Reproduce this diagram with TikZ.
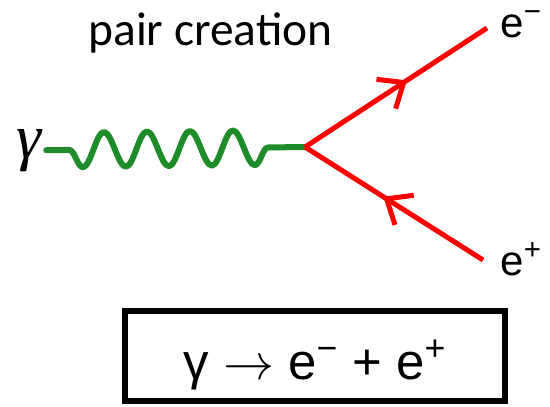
\RequirePackage{fix-cm}
\documentclass[tikz,border=0pt]{standalone}
\usepackage{fontspec}
\setmainfont{Liberation Sans}
\newfontfamily\calibri{Carlito}
\newfontfamily\timesfont{Liberation Serif}
\usetikzlibrary{arrows.meta, positioning, decorations.pathmorphing, decorations.markings}
\definecolor{pRed}{HTML}{FF0000}
\definecolor{pGreen}{HTML}{1E8C28}

\begin{document}
\begin{tikzpicture}[x=0.02cm, y=-0.02cm,
    fermion/.style={pRed, line width=0.1cm, postaction={decorate},
      decoration={markings, mark=at position 0.56 with {\arrow{Straight Barb[length=0.42cm, width=0.7cm]}}}},
    photon/.style={pGreen, line width=0.12cm, line cap=round, line join=round, decorate,
      decoration={snake, mirror, amplitude=0.35cm, segment length=0.86cm, pre length=0.46cm, post length=0.36cm}},
    lbl/.style={inner sep=0pt, font=\fontsize{24}{28}\selectfont}]
  \useasboundingbox (0,0) rectangle (550,406);
  % vertex and free ends of the electron lines
  \coordinate (V) at (305,147);
  \coordinate (em) at (487,28);
  \coordinate (ep) at (483,260);
  \node[lbl, anchor=base, font=\timesfont\itshape\fontsize{36}{40}\selectfont, outer sep=3pt] (gamma) at (28.5,158) {γ};
  \node[lbl, anchor=base west] (emlbl) at (500,37) {e\textsuperscript{−}};
  \node[lbl, anchor=base west] (eplbl) at (500,275) {e\textsuperscript{+}};
  \node[anchor=base, inner sep=0pt, font=\calibri\fontsize{27}{32}\selectfont] (title) at (210.5,45) {pair creation};
  \node[draw, line width=0.12cm, minimum width=7.6cm, minimum height=1.8cm, inner sep=0pt,
        text height=1.2cm, text depth=0.28cm,
        font=\fontsize{29}{32}\selectfont] (eqn) at (315,356) {γ $\rightarrow$ e\textsuperscript{−} + e\textsuperscript{+}};
  \draw[photon] (gamma.east) -- (V);
  \draw[fermion] (V) -- (em);
  \draw[fermion] (ep) -- (V);
\end{tikzpicture}
\end{document}
